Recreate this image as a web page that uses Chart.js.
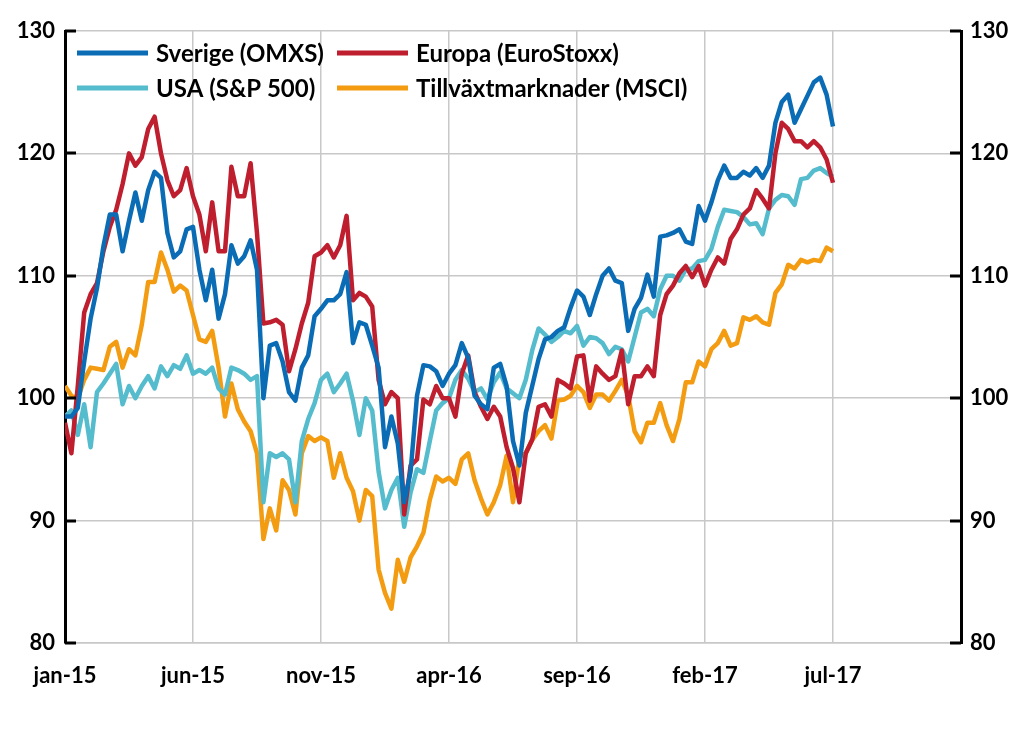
<!DOCTYPE html>
<html>
<head>
<meta charset="utf-8">
<script src="https://cdn.jsdelivr.net/npm/chart.js@4.4.1/dist/chart.umd.min.js"></script>
<style>
  body { margin: 0; background: #fff; }
  canvas { display: block; }
</style>
</head>
<body>
<canvas id="chartIndex" width="1024" height="740"></canvas>
<script>
// index, jan 2015 = 100, one value per quarter month
const xLabels = ['jan-15', 'jun-15', 'nov-15', 'apr-16', 'sep-16', 'feb-17', 'jul-17'];
const yTicks = [80, 90, 100, 110, 120, 130];
const names = ['Sverige (OMXS)', 'Europa (EuroStoxx)', 'USA (S&P 500)', 'Tillväxtmarknader (MSCI)'];

const sverige = [
  98.5, 98.5, 99.2, 103, 106.5, 109, 112.4, 115, 115, 112,
  114.5, 116.8, 114.5, 117, 118.5, 118, 113.5, 111.5, 112, 113.8,
  114, 110.5, 108, 110.5, 106.5, 108.5, 112.5, 111, 111.6, 112.9,
  110.5, 100, 104.3, 104.5, 103, 100.5, 99.8, 102.5, 103.5, 106.7,
  107.3, 108, 108, 108.5, 110.3, 104.5, 106.2, 106, 104.3, 102.5,
  96, 98.5, 96.3, 91.5, 94, 100.2, 102.7, 102.6, 102.2, 101,
  102, 102.7, 104.5, 103.3, 100.2, 99.5, 99.1, 102.5, 102.8, 101,
  96.5, 94.5, 98.8, 101, 103.2, 104.8, 105, 105.5, 105.8, 107.4,
  108.8, 108.3, 106.8, 108.5, 110, 110.6, 109.6, 109.4, 105.5, 107.3,
  108.2, 110.1, 108.3, 113.2, 113.3, 113.5, 113.8, 112.8, 112.6, 115.7,
  114.5, 116, 117.8, 119, 118, 118, 118.5, 118.2, 118.8, 118,
  119, 122.5, 124.2, 124.8, 122.5, 123.6, 124.7, 125.8, 126.2, 124.8,
  122.2
];
const europa = [
  98, 95.5, 101, 107, 108.5, 109.4, 112, 114, 115.4, 117.5,
  120, 119, 119.7, 122, 123, 120, 117.8, 116.5, 117, 118.8,
  116.5, 115, 112, 116, 112, 112, 118.9, 116.5, 116.5, 119.2,
  113.5, 106.1, 106.2, 106.4, 106, 102.2, 104, 106.1, 107.8, 111.6,
  111.9, 112.5, 111.5, 112.5, 114.9, 108, 108.6, 108.3, 107.5, 101.5,
  99.5, 100.5, 100, 90.5, 94.5, 95, 99.9, 99.5, 101, 100,
  100, 98.5, 102, 103.5, 100.5, 99.3, 98.3, 99.3, 98.5, 96,
  94.3, 91.5, 95.5, 96.6, 99.3, 99.5, 98.5, 101.5, 101.2, 100.8,
  103.4, 103.5, 99.8, 102.6, 102, 101.5, 101.8, 103.9, 99.5, 101.8,
  101.8, 102.6, 101.8, 106.8, 108.5, 109.2, 110.2, 110.8, 109.9, 110.8,
  109.2, 110.5, 111.5, 111, 113, 113.8, 115, 115.5, 117, 116.3,
  115.5, 120, 122.5, 122, 121, 121, 120.5, 121, 120.5, 119.5,
  117.6
];
const usa = [
  98.5, 99, 97, 99.5, 96, 100.5, 101.2, 102, 102.8, 99.5,
  101, 100, 101, 101.8, 100.8, 102.6, 101.8, 102.7, 102.4, 103.5,
  102, 102.3, 102, 102.5, 100.8, 100.3, 102.5, 102.3, 102, 101.5,
  101.8, 91.5, 95.5, 95.2, 95.5, 95, 91.5, 96.5, 98.3, 99.6,
  101.5, 102, 100.5, 101.2, 102, 99.8, 97, 100, 99, 94,
  91, 92.5, 93.5, 89.5, 92.3, 94.2, 93.9, 96.5, 99, 99.6,
  100, 101.5, 102.3, 101.6, 100.5, 100.8, 99.9, 101.3, 102.1, 100.8,
  100.4, 100, 101.5, 103.9, 105.7, 105.2, 104.6, 105, 105.5, 105.3,
  105.9, 104.3, 105, 104.9, 104.5, 103.6, 104.2, 104, 103, 105,
  107, 107.3, 106.7, 108.9, 110, 110, 109.6, 110.5, 110.6, 111.2,
  111.3, 112.2, 114, 115.4, 115.3, 115.2, 114.8, 114.2, 114.3, 113.4,
  115.5, 116.2, 116.6, 116.5, 115.8, 117.9, 118, 118.6, 118.8, 118.4,
  118.1
];
const tillvaxt = [
  101, 100.2, 100, 101.5, 102.5, 102.4, 102.3, 104.2, 104.6, 102.5,
  104, 103.5, 106, 109.5, 109.5, 111.9, 110.5, 108.7, 109.2, 108.8,
  106.8, 104.8, 104.6, 105.5, 102.5, 98.5, 101.2, 99.1, 98.1, 97.3,
  95.5, 88.5, 91, 89.2, 93.3, 92.5, 90.5, 95.5, 96.9, 96.5,
  96.8, 96.5, 93.5, 95.5, 93.5, 92.4, 90, 92.5, 92, 86,
  84.1, 82.8, 86.8, 85, 87, 87.9, 89, 91.7, 93.6, 93.2,
  93.5, 93, 95, 95.5, 93.3, 91.8, 90.5, 91.5, 92.9, 95.3,
  91.5, 95.2, 95.5, 96.6, 97.3, 97.8, 96.7, 99.8, 99.9, 100.2,
  101, 100.5, 99.2, 100.3, 100.3, 99.8, 100.6, 101.5, 100.2, 97.3,
  96.4, 98, 98, 99.6, 97.8, 96.5, 98.3, 101.3, 101.3, 103,
  102.6, 104, 104.5, 105.5, 104.3, 104.5, 106.6, 106.4, 106.7, 106.2,
  106, 108.6, 109.3, 110.9, 110.6, 111.3, 111.1, 111.3, 111.2, 112.3,
  112
];

const colors = ['#0b6cb6', '#be1e2d', '#55bccd', '#f39c12'];
const step = 0.25; // months per value
const font = { family: 'Lato', size: 22, weight: 'bold' };

function toPoints(arr) {
  return arr.map((v, i) => ({ x: i * step, y: v }));
}

// tick marks pointing into the plot, on both value axes
const innerTicks = {
  id: 'innerTicks',
  afterDraw(chart) {
    const ctx = chart.ctx;
    const area = chart.chartArea;
    const y = chart.scales.y;
    ctx.save();
    ctx.strokeStyle = '#000';
    ctx.lineWidth = 3;
    yTicks.forEach(t => {
      const py = Math.round(y.getPixelForValue(t));
      ctx.beginPath();
      ctx.moveTo(area.left, py);
      ctx.lineTo(area.left + 11, py);
      ctx.moveTo(area.right, py);
      ctx.lineTo(area.right - 11, py);
      ctx.stroke();
    });
    ctx.restore();
  }
};

// two column legend inside the plot
const boxLegend = {
  id: 'boxLegend',
  afterDraw(chart) {
    const ctx = chart.ctx;
    const area = chart.chartArea;
    const cols = [area.left + 12, area.left + 272];
    const rows = [area.top + 22, area.top + 57];
    ctx.save();
    ctx.font = 'bold 24px Lato';
    ctx.textBaseline = 'middle';
    ctx.fillStyle = '#000';
    names.forEach((n, i) => {
      const cx = cols[i % 2];
      const cy = rows[Math.floor(i / 2)];
      ctx.strokeStyle = colors[i];
      ctx.lineWidth = 5;
      ctx.beginPath();
      ctx.moveTo(cx, cy);
      ctx.lineTo(cx + 71, cy);
      ctx.stroke();
      ctx.fillText(n, cx + 79, cy + 1);
    });
    ctx.restore();
  }
};

const series = [sverige, europa, usa, tillvaxt];

new Chart(document.getElementById('chartIndex'), {
  type: 'line',
  data: {
    datasets: series.map((s, i) => ({
      label: names[i],
      data: toPoints(s),
      borderColor: colors[i],
      borderWidth: 4.5,
      borderJoinStyle: 'round',
      pointRadius: 0,
      tension: 0,
      fill: false
    }))
  },
  options: {
    responsive: false,
    animation: false,
    devicePixelRatio: 1,
    layout: { padding: { top: 31 } },
    plugins: {
      legend: { display: false },
      tooltip: { enabled: false }
    },
    scales: {
      x: {
        type: 'linear',
        min: 0,
        max: 35,
        grid: { color: '#c8c8c8', lineWidth: 1.5, drawTicks: false },
        border: { color: '#c8c8c8', width: 1.5 },
        ticks: {
          stepSize: 5,
          padding: 20,
          color: '#000',
          font: font,
          maxRotation: 0,
          callback: v => xLabels[v / 5] || ''
        },
        afterFit: s => { s.height = 97; }
      },
      y: {
        position: 'left',
        min: 80,
        max: 130,
        grid: { color: '#c8c8c8', lineWidth: 1.5, drawTicks: false },
        border: { color: '#000', width: 3 },
        ticks: { stepSize: 10, padding: 10, color: '#000', font: font },
        afterFit: s => { s.width = 65; }
      },
      y2: {
        position: 'right',
        min: 80,
        max: 130,
        grid: { display: false, drawTicks: false },
        border: { color: '#000', width: 3 },
        ticks: { stepSize: 10, padding: 9, color: '#000', font: font },
        afterFit: s => { s.width = 63; }
      }
    }
  },
  plugins: [innerTicks, boxLegend]
});
</script>
</body>
</html>
